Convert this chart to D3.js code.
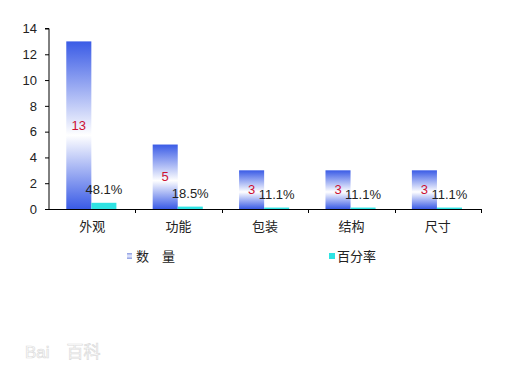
<!DOCTYPE html>
<html><head><meta charset="utf-8">
<script src="https://cdn.jsdelivr.net/npm/d3@7/dist/d3.min.js"></script>
<style>body{margin:0;background:#fff;}svg{display:block;}</style>
</head><body>
<script>
const categories = ["外观","功能","包装","结构","尺寸"];
const counts = [13,5,3,3,3];
const percents = [48.1,18.5,11.1,11.1,11.1];
const yTicks = [0,2,4,6,8,10,12,14];
const seriesNames = ["数\u3000量","百分率"];

const W=512,H=384;
const svg=d3.select("body").append("svg").attr("width",W).attr("height",H);
const font="'Liberation Sans', Arial, 'Noto Sans CJK SC', sans-serif";

const x=d3.scaleBand().domain(categories).range([49,481]).padding(0);
const y=d3.scaleLinear().domain([0,14]).range([209,28.5]);
const bw=x.bandwidth();
const barW=bw*0.29, off=bw*0.2;

const defs=svg.append("defs");
const g=defs.append("linearGradient").attr("id","blueGrad").attr("x1",0).attr("y1",0).attr("x2",0).attr("y2",1);
g.append("stop").attr("offset","0%").attr("stop-color","#3a5be6");
g.append("stop").attr("offset","56%").attr("stop-color","#ffffff");
g.append("stop").attr("offset","100%").attr("stop-color","#3a5be6");

// watermark
svg.append("text").attr("x",25).attr("y",358).attr("font-family",font).attr("font-size",17)
  .attr("fill","#ffffff").attr("stroke","#dcdcdc").attr("stroke-width",0.7).text("Bai\u2003百科");

// bars
svg.selectAll(".cnt").data(categories).enter().append("rect")
  .attr("x",d=>x(d)+off).attr("width",barW)
  .attr("y",(d,i)=>y(counts[i])).attr("height",(d,i)=>y(0)-y(counts[i]))
  .attr("fill","url(#blueGrad)");
svg.selectAll(".pct").data(categories).enter().append("rect")
  .attr("x",d=>x(d)+off+barW).attr("width",barW)
  .attr("y",(d,i)=>y(percents[i]/100)).attr("height",(d,i)=>y(0)-y(percents[i]/100))
  .attr("fill","#2fe3e3");

// axes
const ya=d3.axisLeft(y).tickValues(yTicks).tickSize(4).tickPadding(8).tickFormat(d3.format("d"));
const yg=svg.append("g").attr("transform","translate(49,0)").call(ya);
yg.select(".domain").attr("stroke","#000").attr("d","M-4,28.5H0V209");
yg.selectAll("text").attr("font-family",font).attr("font-size",13).attr("fill","#222");
svg.append("line").attr("x1",49).attr("x2",481).attr("y1",209.5).attr("y2",209.5).attr("stroke","#000");
const bounds=categories.map(c=>x(c)+bw);
svg.selectAll(".xt").data(bounds).enter().append("line")
  .attr("x1",d=>Math.round(d)+0.5).attr("x2",d=>Math.round(d)+0.5).attr("y1",209).attr("y2",213).attr("stroke","#000");
svg.selectAll(".xl").data(categories).enter().append("text")
  .attr("x",d=>x(d)+bw/2).attr("y",231).attr("text-anchor","middle")
  .attr("font-family",font).attr("font-size",13).attr("fill","#222").text(d=>d);

// labels
svg.selectAll(".cl").data(categories).enter().append("text")
  .attr("x",d=>x(d)+off+barW/2).attr("y",(d,i)=>(y(counts[i])+y(0))/2+4.5)
  .attr("text-anchor","middle").attr("font-family",font).attr("font-size",13).attr("fill","#cc1133")
  .text((d,i)=>counts[i]);
svg.selectAll(".pl").data(categories).enter().append("text")
  .attr("x",d=>x(d)+off+barW*1.5).attr("y",(d,i)=>y(percents[i]/100)-8.5)
  .attr("text-anchor","middle").attr("font-family",font).attr("font-size",13).attr("fill","#222")
  .text((d,i)=>percents[i].toFixed(1)+"%");

// legend
const lg=defs.append("linearGradient").attr("id","legGrad").attr("x1",0).attr("y1",0).attr("x2",0).attr("y2",1);
lg.append("stop").attr("offset","0%").attr("stop-color","#8a9ae0");
lg.append("stop").attr("offset","50%").attr("stop-color","#e8ecff");
lg.append("stop").attr("offset","100%").attr("stop-color","#8a9ae0");
svg.append("rect").attr("x",127).attr("y",253).attr("width",5).attr("height",6).attr("fill","url(#legGrad)");
svg.append("rect").attr("x",329).attr("y",253).attr("width",6).attr("height",6).attr("fill","#2fe3e3");
svg.append("text").attr("x",136).attr("y",261).attr("font-family",font).attr("font-size",13).attr("fill","#222").text(seriesNames[0]);
svg.append("text").attr("x",337).attr("y",261).attr("font-family",font).attr("font-size",13).attr("fill","#222").text(seriesNames[1]);
</script>
</body></html>
